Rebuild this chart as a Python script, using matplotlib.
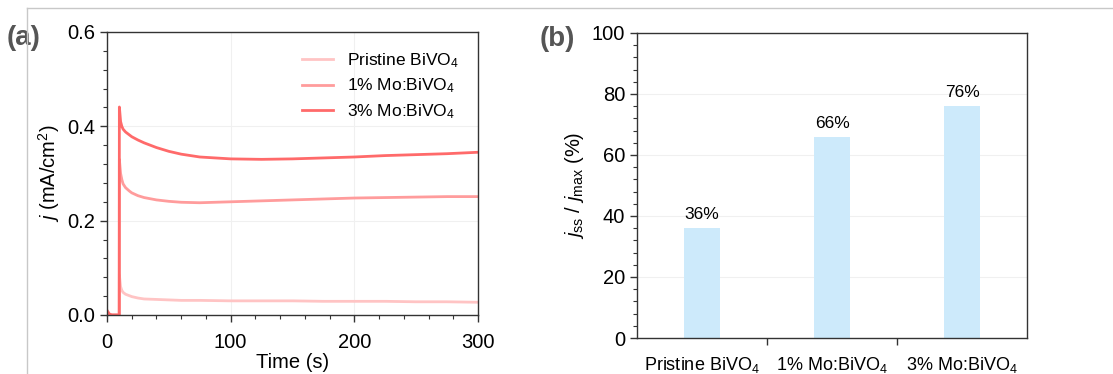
import matplotlib
matplotlib.use("Agg")
import matplotlib.pyplot as plt
from matplotlib.lines import Line2D
from matplotlib.ticker import MultipleLocator

plt.rcParams["font.family"] = ["Liberation Sans", "DejaVu Sans"]
plt.rcParams["mathtext.fontset"] = "custom"
plt.rcParams["mathtext.rm"] = "Liberation Sans"
plt.rcParams["mathtext.it"] = "Liberation Sans:italic"

# ---- data (a): photocurrent transients ----
time_s = [0, 2, 4, 9.9, 10, 11, 12, 13, 15, 18, 20, 25, 30, 40, 50, 60, 75,
          100, 125, 150, 175, 200, 225, 250, 275, 300]
j_pristine = [0.0, 0.0, 0.0, 0.0, 0.085, 0.060, 0.052, 0.048, 0.044, 0.041, 0.039,
              0.036, 0.034, 0.033, 0.032, 0.031, 0.031, 0.030, 0.030, 0.030,
              0.029, 0.029, 0.029, 0.028, 0.028, 0.027]
j_mo1 = [0.0, 0.0, 0.0, 0.0, 0.330, 0.300, 0.287, 0.278, 0.270, 0.263, 0.259,
         0.253, 0.249, 0.244, 0.241, 0.239, 0.238, 0.240, 0.242, 0.244, 0.246,
         0.248, 0.249, 0.250, 0.251, 0.251]
j_mo3 = [0.010, 0.002, 0.0, 0.0, 0.441, 0.410, 0.400, 0.394, 0.388, 0.382, 0.378,
         0.371, 0.365, 0.355, 0.347, 0.341, 0.335, 0.331, 0.330, 0.331, 0.333,
         0.335, 0.338, 0.340, 0.342, 0.345]

# ---- data (b): retention ratio ----
samples = ["Pristine BiVO$_4$", "1% Mo:BiVO$_4$", "3% Mo:BiVO$_4$"]
ratio = [36, 66, 76]

c_pristine = "#ffc4c4"
c_mo1 = "#ff9c9c"
c_mo3 = "#ff6a6a"
bar_color = "#cdeafb"

fig = plt.figure(figsize=(11.13, 3.74), dpi=100)

# light gray frame around the panel area
fig.add_artist(Line2D([27 / 1113, 1.0], [1 - 8 / 374] * 2, color="#c8c8c8", lw=1,
                      transform=fig.transFigure))
fig.add_artist(Line2D([27 / 1113] * 2, [0.0, 1 - 8 / 374], color="#c8c8c8", lw=1,
                      transform=fig.transFigure))

ax1 = fig.add_axes([107 / 1113, 1 - 315 / 374, (478 - 107) / 1113, (315 - 32) / 374])
ax2 = fig.add_axes([637 / 1113, 1 - 338 / 374, (1027 - 637) / 1113, (338 - 33) / 374])

# panel (a)
ax1.plot(time_s, j_pristine, color=c_pristine, lw=2, label="Pristine BiVO$_4$")
ax1.plot(time_s, j_mo1, color=c_mo1, lw=2, label="1% Mo:BiVO$_4$")
ax1.plot(time_s, j_mo3, color=c_mo3, lw=2, label="3% Mo:BiVO$_4$")
ax1.set_xlim(0, 300)
ax1.set_ylim(0, 0.6)
ax1.xaxis.set_major_locator(MultipleLocator(100))
ax1.xaxis.set_minor_locator(MultipleLocator(20))
ax1.yaxis.set_major_locator(MultipleLocator(0.2))
ax1.yaxis.set_minor_locator(MultipleLocator(0.04))
ax1.yaxis.set_major_formatter(plt.FormatStrFormatter("%.1f"))
ax1.grid(True, which="major", color="#f0f0f0", lw=0.8)
ax1.set_axisbelow(True)
ax1.set_xlabel("Time (s)", fontsize=14.5, labelpad=1)
ax1.set_ylabel("$j$ (mA/cm$^2$)", fontsize=14.5, labelpad=4)
ax1.legend(loc="upper right", frameon=False, fontsize=12.5, handlelength=1.8,
           borderaxespad=0.7, labelspacing=0.4, borderpad=0.4)
ax1.text(-0.27, 0.98, "(a)", transform=ax1.transAxes, fontsize=20, fontweight="bold",
         color="#555555", va="center", ha="left")

# panel (b)
pos = range(len(samples))
ax2.bar(pos, ratio, width=0.27, color=bar_color)
for p, v in zip(pos, ratio):
    ax2.text(p, v + 2, f"{v}%", ha="center", va="bottom", fontsize=12.5)
ax2.set_xlim(-0.5, 2.5)
ax2.set_ylim(0, 100)
ax2.set_xticks([0.5, 1.5])
ax2.set_xticklabels([])
ax2.set_xticks(list(pos), minor=True)
ax2.set_xticklabels(samples, minor=True)
ax2.yaxis.set_major_locator(MultipleLocator(20))
ax2.yaxis.set_minor_locator(MultipleLocator(4))
ax2.grid(True, axis="y", which="major", color="#f0f0f0", lw=0.8)
ax2.set_axisbelow(True)
ax2.set_ylabel("$j_{\\rm ss}$ / $j_{\\rm max}$ (%)", fontsize=14.5, labelpad=4)
ax2.text(-0.25, 0.98, "(b)", transform=ax2.transAxes, fontsize=20, fontweight="bold",
         color="#555555", va="center", ha="left")

for ax in (ax1, ax2):
    ax.tick_params(axis="both", which="major", labelsize=14.5, length=5, width=1,
                   direction="out", color="#333333")
    ax.tick_params(axis="y", which="minor", length=3, width=0.8, color="#333333")
    ax.tick_params(axis="x", which="minor", length=3, width=0.8, color="#333333")
    for s in ax.spines.values():
        s.set_color("#333333")
        s.set_linewidth(1)
ax1.tick_params(axis="x", which="major", pad=8)
ax2.tick_params(axis="x", which="minor", length=0, labelsize=13, pad=12)

fig.savefig("out.png", dpi=100)
